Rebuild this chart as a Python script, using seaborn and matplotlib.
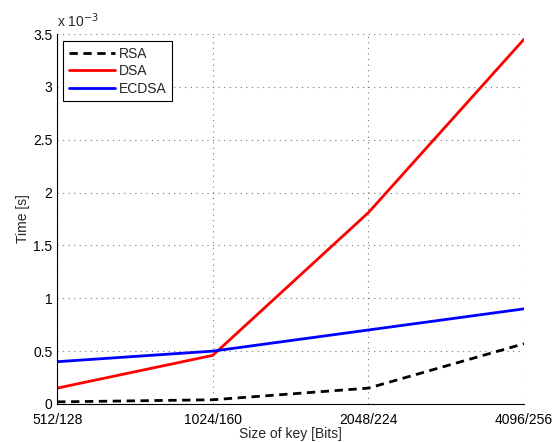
import numpy as np
import pandas as pd
import seaborn as sns
import matplotlib.pyplot as plt
from matplotlib.ticker import FuncFormatter

sns.set_theme(style='white')
plt.rcParams['font.family'] = ['Liberation Sans', 'DejaVu Sans']

key_sizes = ['512/128', '1024/160', '2048/224', '4096/256']
rsa = [0.00002, 0.00004, 0.00015, 0.00057]
dsa = [0.00015, 0.00046, 0.00181, 0.00345]
ecdsa = [0.00040, 0.00050, 0.00070, 0.00090]

df = pd.DataFrame({'pos': np.arange(len(key_sizes)), 'RSA': rsa, 'DSA': dsa, 'ECDSA': ecdsa})
long = df.melt(id_vars='pos', var_name='alg', value_name='time')

fig = plt.figure(figsize=(5.55, 4.42), dpi=100)
ax = fig.add_axes([0.103, 0.086, 0.841, 0.837])

sns.lineplot(data=long, x='pos', y='time', hue='alg', style='alg',
             palette={'RSA': 'black', 'DSA': '#ff0000', 'ECDSA': '#0000ff'},
             dashes={'RSA': (3, 2), 'DSA': '', 'ECDSA': ''},
             linewidth=2, ax=ax)

ax.set_xlim(0, 3)
ax.set_ylim(0, 0.0035)
ax.set_xticks(range(len(key_sizes)))
ax.set_xticklabels(key_sizes)
ax.set_yticks(np.arange(0, 0.0036, 0.0005))
ax.yaxis.set_major_formatter(FuncFormatter(lambda v, p: f'{v*1e3:g}'))
ax.text(0.0, 1.012, r'x 10$^{-3}$', transform=ax.transAxes, fontsize=10, ha='left', va='bottom')

ax.grid(True, linestyle=(0, (1, 4)), color='#777777', linewidth=0.8)
ax.tick_params(direction='in', length=4, labelsize=10, colors='black', width=0.6)
ax.tick_params(axis='x', pad=6.5)
for s in ['top', 'right']:
    ax.spines[s].set_visible(False)
for s in ['left', 'bottom']:
    ax.spines[s].set_color('black')
    ax.spines[s].set_linewidth(0.8)

ax.set_xlabel('Size of key [Bits]', fontsize=10, labelpad=0)
ax.set_ylabel('Time [s]', fontsize=10, labelpad=2)

leg = ax.legend(loc='upper left', fontsize=10, frameon=True, fancybox=False,
                edgecolor='black', framealpha=1, borderpad=0.4, handlelength=3.3,
                handletextpad=0.3, labelspacing=0.25, borderaxespad=0,
                bbox_to_anchor=(0.013, 0.981))
leg.get_frame().set_linewidth(0.8)
leg.set_title(None)

fig.savefig('out.png', dpi=100)
